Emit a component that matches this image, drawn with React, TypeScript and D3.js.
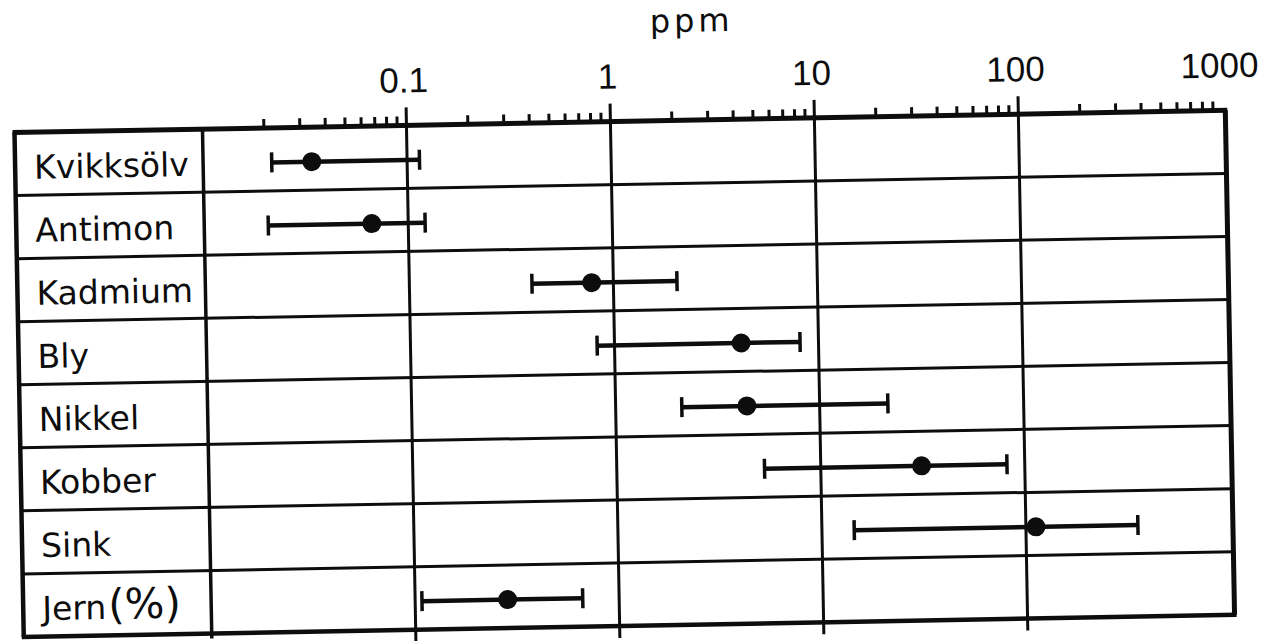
import React from "react";
import * as d3 from "d3";

// ---- data ----
const categories = ["Kvikksölv", "Antimon", "Kadmium", "Bly", "Nikkel", "Kobber", "Sink", "Jern(%)"];
const lowValues = [0.0217, 0.0206, 0.399, 0.822, 2.11, 5.3, 14.4, 0.108];
const meanValues = [0.0341, 0.0663, 0.783, 4.18, 4.4, 31.2, 112, 0.284];
const highValues = [0.115, 0.121, 2.05, 8.12, 21.6, 81.8, 354, 0.663];
const majorTicks = [0.1, 1, 10, 100, 1000];
const tickLabels = ["0.1", "1", "10", "100", "1000"];
const decades = [0.01, 0.1, 1, 10, 100];
const minorMultipliers = [2, 3, 4, 5, 6, 7, 8, 9];
const axisTitle = "ppm";

const W = 1277;
const H = 641;
const LEFT = 19;
const RIGHT = 1230;
const TOP = 121.5;
const BOTTOM = 626;
const INK = "#0d0d0d";

export default function App() {
  const x = d3.scaleLog().domain([0.01, 1000]).range([207, 1227]);
  const y = d3.scaleBand<string>().domain(categories).range([TOP, BOTTOM]).paddingInner(0).paddingOuter(0);
  const bw = y.bandwidth();

  const minor: number[] = [];
  decades.forEach((d) => minorMultipliers.forEach((m) => minor.push(d * m)));

  const rowEdges = categories.slice(1).map((c) => y(c) as number);

  return (
    <svg
      width={W}
      height={H}
      style={{ position: "absolute", left: 0, top: 0, background: "#fff" }}
    >
      <rect x={0} y={0} width={W} height={H} fill="#fff" />
      <g transform="rotate(-1.05, 620, 372)" stroke={INK} fill="none">
        {/* axis title */}
        <text
          x={698}
          y={33}
          textAnchor="middle"
          fontFamily="DejaVu Sans"
          fontSize={32}
          letterSpacing={4}
          fill={INK}
          stroke="none"
        >
          {axisTitle}
        </text>
        {/* tick labels */}
        {majorTicks.map((t, i) => (
          <text
            key={"tl" + i}
            x={x(t) - 2}
            y={88.5}
            textAnchor="middle"
            fontFamily="Liberation Sans"
            fontSize={35}
            fill={INK}
            stroke="none"
          >
            {tickLabels[i]}
          </text>
        ))}
        {/* minor ticks */}
        {minor.map((v, i) => (
          <line key={"mt" + i} x1={x(v)} x2={x(v)} y1={TOP} y2={TOP - 9} strokeWidth={3} />
        ))}
        {/* decade grid lines (with major ticks above) */}
        {majorTicks.slice(0, 4).map((t, i) => (
          <line key={"gl" + i} x1={x(t)} x2={x(t)} y1={TOP - 18} y2={BOTTOM + 12} strokeWidth={3} />
        ))}
        {/* column divider at 0.01 */}
        <line x1={x(0.01)} x2={x(0.01)} y1={TOP} y2={BOTTOM + 5} strokeWidth={3.5} />
        {/* row lines */}
        {rowEdges.map((yy, i) => (
          <line key={"rl" + i} x1={LEFT} x2={RIGHT} y1={yy} y2={yy} strokeWidth={3} />
        ))}
        {/* outer frame */}
        <line x1={LEFT - 2} x2={RIGHT + 2} y1={TOP} y2={TOP} strokeWidth={5} />
        <line x1={LEFT - 2} x2={RIGHT + 2} y1={BOTTOM} y2={BOTTOM} strokeWidth={4.5} />
        <line x1={LEFT} x2={LEFT} y1={TOP} y2={BOTTOM} strokeWidth={4.5} />
        <line x1={RIGHT} x2={RIGHT} y1={TOP} y2={BOTTOM} strokeWidth={5} />

        {/* labels */}
        {categories.map((c, i) => {
          const by = (y(c) as number) + bw / 2 + 15;
          const m = c.match(/^(.*?)(\(%\))$/);
          return (
            <text
              key={"lab" + i}
              x={38}
              y={by}
              fontFamily="DejaVu Sans"
              fontSize={33}
              fill={INK}
              stroke="none"
            >
              {m ? (
                <>
                  {m[1]}
                  <tspan fontSize={42} dx={2}>{m[2]}</tspan>
                </>
              ) : (
                c
              )}
            </text>
          );
        })}

        {/* error bars */}
        {categories.map((c, i) => {
          const cy = (y(c) as number) + bw / 2 + 3;
          const x0 = x(lowValues[i]);
          const x1 = x(highValues[i]);
          const xm = x(meanValues[i]);
          return (
            <g key={"eb" + i}>
              <line x1={x0} x2={x1} y1={cy} y2={cy} strokeWidth={4.5} />
              <line x1={x0} x2={x0} y1={cy - 10} y2={cy + 10} strokeWidth={3.5} />
              <line x1={x1} x2={x1} y1={cy - 10} y2={cy + 10} strokeWidth={3.5} />
              <circle cx={xm} cy={cy} r={9.5} fill={INK} stroke="none" />
            </g>
          );
        })}
      </g>
    </svg>
  );
}
